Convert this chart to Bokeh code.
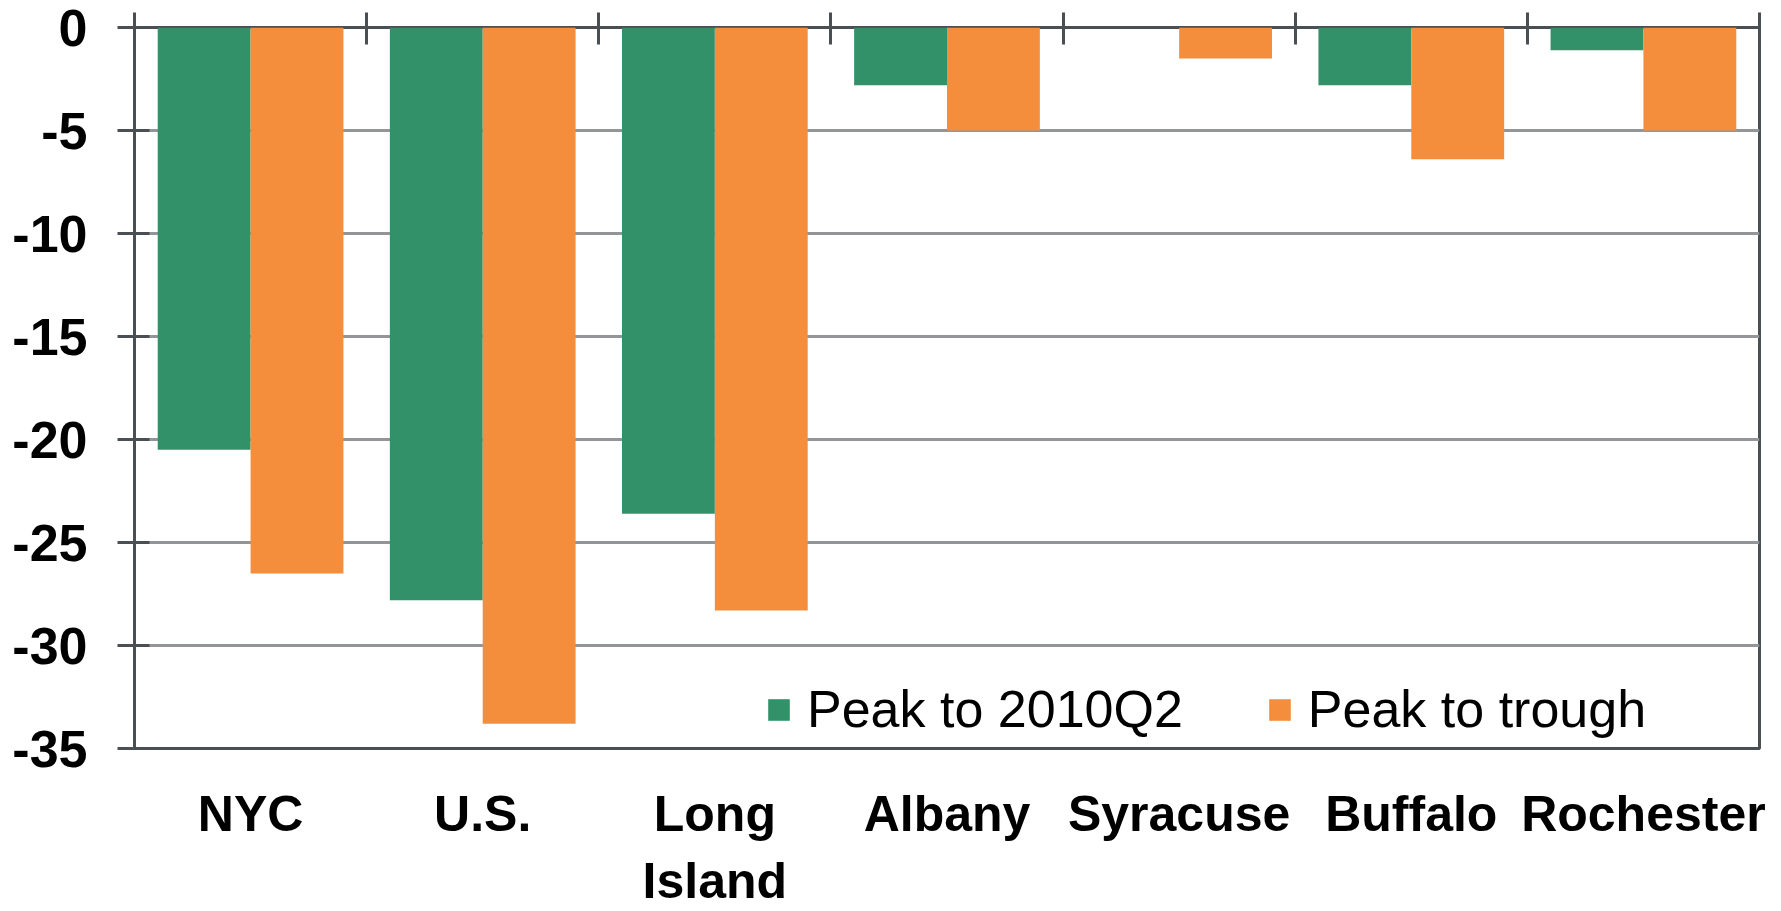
from bokeh.plotting import figure
from bokeh.models import (ColumnDataSource, Range1d, LinearAxis, FixedTicker,
                          Legend, LegendItem, CustomLabelingPolicy)
from bokeh.transform import dodge
from bokeh.embed import file_html
from bokeh.resources import INLINE

# ---- data ----
categories = ["NYC", "U.S.", "Long Island", "Albany", "Syracuse", "Buffalo", "Rochester"]
tick_labels = ["NYC", "U.S.", "Long\nIsland", "Albany", "Syracuse", "Buffalo", "Rochester"]
peak_to_2010q2 = [-20.5, -27.8, -23.6, -2.8, 0.0, -2.8, -1.1]
peak_to_trough = [-26.5, -33.8, -28.3, -5.0, -1.5, -6.4, -5.0]
y_ticks = [-35, -30, -25, -20, -15, -10, -5, 0]
y_tick_labels = ["-35", "-30", "-25", "-20", "-15", "-10", "-5", "0"]
series_names = ["Peak to 2010Q2", "Peak to trough"]

GREEN = "#33916A"
ORANGE = "#F58E3C"
DARK = "#4A4F54"
GRID = "#939598"
FONT = "Liberation Sans"

n = len(categories)
centers = [i + 0.5 for i in range(n)]
src = ColumnDataSource(dict(x=centers, cat=categories, green=peak_to_2010q2,
                            orange=peak_to_trough, zero=[0] * n))

p = figure(x_range=Range1d(0, n), y_range=Range1d(-35, 0), width=1773, height=911,
           output_backend="svg", toolbar_location=None,
           min_border_left=134, min_border_right=14, min_border_top=27, min_border_bottom=163)
p.background_fill_color = "white"
p.border_fill_color = "white"
p.outline_line_color = DARK
p.outline_line_width = 3

r1 = p.vbar(x=dodge("x", -0.2), top="zero", bottom="green", width=0.4,
            source=src, fill_color=GREEN, line_color=None)
r2 = p.vbar(x=dodge("x", 0.2), top="zero", bottom="orange", width=0.4,
            source=src, fill_color=ORANGE, line_color=None)

# grid
p.xgrid.grid_line_color = None
p.ygrid.ticker = FixedTicker(ticks=y_ticks)
p.ygrid.grid_line_color = GRID
p.ygrid.grid_line_width = 3

# y axis
ya = p.yaxis[0]
ya.ticker = FixedTicker(ticks=y_ticks)
ya.major_label_overrides = {t: lab for t, lab in zip(y_ticks, y_tick_labels)}
ya.axis_line_color = None
ya.major_tick_line_color = DARK
ya.major_tick_line_width = 3
ya.major_tick_out = 17
ya.major_tick_in = 15
ya.minor_tick_line_color = None
ya.major_label_text_font = FONT
ya.major_label_text_font_style = "bold"
ya.major_label_text_font_size = "52px"
ya.major_label_text_color = "black"
ya.major_label_standoff = 30

# bottom axis (category labels only)
xa = p.xaxis[0]
xa.ticker = FixedTicker(ticks=centers)
xa.major_label_overrides = {c: lab for c, lab in zip(centers, tick_labels)}
xa.axis_line_color = None
xa.major_tick_line_color = None
xa.major_tick_out = 0
xa.major_tick_in = 0
xa.minor_tick_line_color = None
xa.major_label_text_font = FONT
xa.major_label_text_font_style = "bold"
xa.major_label_text_font_size = "50px"
xa.major_label_text_color = "black"
xa.major_label_standoff = 37

# top axis with ticks at category boundaries (no labels)
top = LinearAxis(ticker=FixedTicker(ticks=list(range(n + 1))))
top.axis_line_color = None
top.major_tick_line_color = DARK
top.major_tick_line_width = 3
top.major_tick_out = 15
top.major_tick_in = 17
top.minor_tick_line_color = None
top.major_label_policy = CustomLabelingPolicy(code="return new Set()")
top.major_label_text_font_size = "2px"
top.major_label_text_color = None
top.major_label_standoff = 0
p.add_layout(top, "above")

legend = Legend(items=[LegendItem(label=series_names[0], renderers=[r1]),
                       LegendItem(label=series_names[1], renderers=[r2])],
                orientation="horizontal", location=(631, 9))
legend.background_fill_alpha = 0
legend.border_line_color = None
legend.padding = 0
legend.margin = 0
legend.spacing = 83
legend.glyph_width = 27
legend.glyph_height = 27
legend.label_standoff = 15
legend.label_text_font = FONT
legend.label_text_font_size = "52px"
legend.label_text_color = "black"
p.add_layout(legend, "center")

open("out.html", "w").write(file_html(p, INLINE))
